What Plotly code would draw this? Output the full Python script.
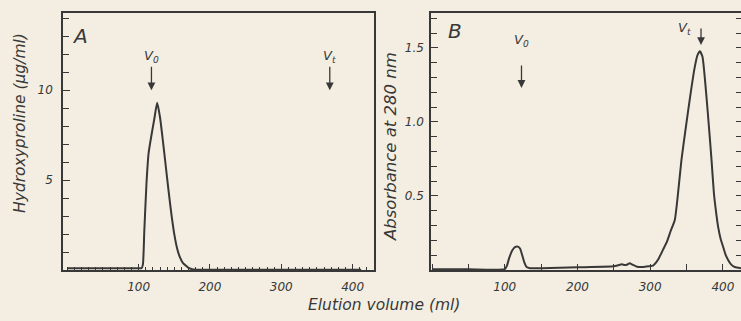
import plotly.graph_objects as go

# ---- data ----
a_volume = [0, 50, 100, 104, 106, 108, 111, 114, 118, 122, 126, 130, 134, 138, 142, 146, 150, 154, 158, 162, 166, 170, 175, 180, 250, 300, 350, 400, 412]
a_hyp = [0.1, 0.1, 0.1, 0.1, 0.3, 2.2, 4.8, 6.5, 7.5, 8.4, 9.3, 8.5, 7.2, 5.8, 4.4, 3.1, 2.0, 1.2, 0.7, 0.4, 0.25, 0.12, 0.05, 0.02, 0.02, 0.02, 0.02, 0.02, 0.02]

b_volume = [0, 50, 100, 103, 106, 110, 114, 118, 121, 124, 127, 130, 135, 150, 200, 250, 256, 261, 265, 268, 272, 276, 282, 290, 298, 304, 308, 312, 318, 323, 328, 334, 338, 343, 349, 355, 361, 365, 368.5, 372, 377.5, 381, 384.5, 387.7, 390.5, 393.6, 397, 400.5, 404, 407.3, 411, 416.4, 425]
b_abs = [0.005, 0.005, 0.006, 0.03, 0.08, 0.13, 0.155, 0.158, 0.145, 0.1, 0.05, 0.02, 0.012, 0.012, 0.018, 0.025, 0.032, 0.038, 0.033, 0.035, 0.045, 0.035, 0.022, 0.02, 0.025, 0.03, 0.05, 0.08, 0.14, 0.19, 0.26, 0.34, 0.5, 0.74, 0.96, 1.17, 1.36, 1.45, 1.478, 1.44, 1.17, 0.96, 0.74, 0.52, 0.4, 0.29, 0.21, 0.155, 0.1, 0.068, 0.04, 0.02, 0.012]

a_xticks = [100, 200, 300, 400]
a_yticks = [5, 10]
b_xticks = [100, 200, 300, 400]
b_yticks = [0.5, 1.0, 1.5]
b_ytick_text = ["0.5", "1.0", "1.5"]

# markers: (volume, arrow tip value)
a_v0 = (118, 10.0)
a_vt = (368, 10.0)
b_v0 = (123, 1.23)
b_vt = (370, 1.52)

INK = "#383838"
BG = "#f3eee1"
FONT = "DejaVu Sans"
W, H = 741, 321

fig = go.Figure()
fig.add_trace(go.Scatter(x=a_volume, y=a_hyp, mode="lines", xaxis="x", yaxis="y",
                         line=dict(color=INK, width=2, shape="spline", smoothing=0.5),
                         hoverinfo="skip", showlegend=False))
fig.add_trace(go.Scatter(x=b_volume, y=b_abs, mode="lines", xaxis="x2", yaxis="y2",
                         line=dict(color=INK, width=2, shape="spline", smoothing=0.5),
                         hoverinfo="skip", showlegend=False))
fig.add_trace(go.Scatter(x=[0], y=[0], mode="lines", xaxis="x2", yaxis="y3",
                         line=dict(color="rgba(0,0,0,0)"), hoverinfo="skip", showlegend=False))

def px_x(p):
    return p / W

def px_y(p):
    return 1 - p / H

tickfont = dict(family=FONT, size=12, color=INK, style="italic")
common = dict(showgrid=False, zeroline=False, showline=True, linecolor=INK, linewidth=1.5,
              ticks="inside", tickcolor=INK, tickwidth=1.2, tickfont=tickfont)

ydom = [px_y(270), px_y(13)]
fig.update_layout(
    width=W, height=H, margin=dict(l=0, r=0, t=0, b=0),
    paper_bgcolor=BG, plot_bgcolor=BG, showlegend=False,
    xaxis=dict(domain=[px_x(63), px_x(374)], range=[-6, 430], anchor="y",
               tickmode="array", tickvals=a_xticks, ticklen=6, mirror=True,
               minor=dict(dtick=10, tick0=0, ticks="inside", ticklen=3, tickcolor=INK, tickwidth=1),
               ticklabelstandoff=5, **common),
    yaxis=dict(domain=ydom, range=[0, 14.3], anchor="x",
               tickmode="array", tickvals=a_yticks, ticklen=7, mirror=True,
               minor=dict(dtick=1, tick0=0, ticks="inside", ticklen=6, tickcolor=INK, tickwidth=1),
               ticklabelstandoff=6, **common),
    xaxis2=dict(domain=[px_x(431), 1.0], range=[-1.5, 425], anchor="y2",
                tickmode="array", tickvals=b_xticks, ticklen=6, mirror=True,
                minor=dict(dtick=50, tick0=0, ticks="inside", ticklen=6, tickcolor=INK, tickwidth=1),
                ticklabelstandoff=5, **common),
    yaxis2=dict(domain=ydom, range=[0, 1.736], anchor="x2",
                tickmode="array", tickvals=b_yticks, ticktext=b_ytick_text, ticklen=7, mirror=False,
                minor=dict(dtick=0.1, tick0=0, ticks="inside", ticklen=6, tickcolor=INK, tickwidth=1),
                ticklabelstandoff=3, **common),
    yaxis3=dict(range=[0, 1.736], overlaying="y2", side="right", anchor="free", position=1.0,
                showgrid=False, zeroline=False, showline=False, showticklabels=False,
                ticks="inside", ticklen=5, tickcolor=INK, tickwidth=1, dtick=0.1, tick0=0),
)

ann = []
lbl = dict(family=FONT, size=13, color=INK, style="italic")

def text_ann(x, y, text, size, angle=0):
    ann.append(dict(xref="paper", yref="paper", x=px_x(x), y=px_y(y), text=text, showarrow=False,
                    xanchor="center", yanchor="middle", textangle=angle,
                    font=dict(family=FONT, size=size, color=INK, style="italic")))

# panel letters
text_ann(80, 36, "A", 20)
text_ann(455, 31, "B", 20)
# axis titles
text_ann(20, 123, "Hydroxyproline (µg/ml)", 15.5, -90)
text_ann(391, 147, "Absorbance at 280 nm", 16.5, -90)
text_ann(384, 305, "Elution volume (ml)", 15.5)

def arrow(xref, yref, pos, ay):
    vx, vy = pos
    ann.append(dict(xref=xref, yref=yref, x=vx, y=vy, ax=0, ay=ay, text="", showarrow=True,
                    arrowhead=2, arrowsize=1.2, arrowwidth=1.3, arrowcolor=INK, standoff=0))

def label(xref, yref, pos, text, dx, dy):
    vx, vy = pos
    ann.append(dict(xref=xref, yref=yref, x=vx, y=vy, text=text, showarrow=False,
                    xanchor="center", yanchor="middle", xshift=dx, yshift=dy, font=lbl))

arrow("x", "y", a_v0, -25)
label("x", "y", a_v0, "V<sub>0</sub>", 0, 34)
arrow("x", "y", a_vt, -25)
label("x", "y", a_vt, "V<sub>t</sub>", 0, 34)
arrow("x2", "y2", b_v0, -24)
label("x2", "y2", b_v0, "V<sub>0</sub>", 0, 47)
arrow("x2", "y2", b_vt, -18)
label("x2", "y2", b_vt, "V<sub>t</sub>", -17, 16)
fig.update_layout(annotations=ann)

fig.write_html("out.html")
